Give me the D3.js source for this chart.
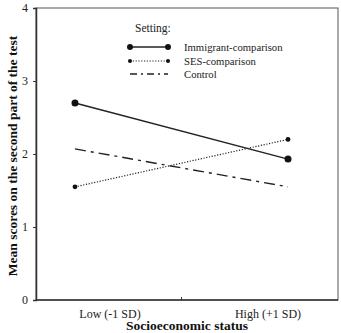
<!DOCTYPE html>
<html lang="en">
<head>
<meta charset="UTF-8">
<title>SES by setting</title>
<script src="https://d3js.org/d3.v7.min.js"></script>
<style>
  body { margin: 0; background: #fff; }
  svg { display: block; font-family: "Liberation Serif", "Times New Roman", serif; }
</style>
</head>
<body>
<svg width="341" height="333"></svg>
<script>
// chart values
const categories = ["Low (-1 SD)", "High (+1 SD)"];
const seriesNames = ["Immigrant-comparison", "SES-comparison", "Control"];
const immigrantValues = [2.70, 1.93];
const sesValues = [1.55, 2.20];
const controlValues = [2.07, 1.55];
const yTicks = [0, 1, 2, 3, 4];

const series = [
  { name: seriesNames[0], values: immigrantValues, dash: null, width: 1.5, r: 3.5 },
  { name: seriesNames[1], values: sesValues, dash: "1.2,1.6", width: 1.2, r: 2.4 },
  { name: seriesNames[2], values: controlValues, dash: "11,5,3,5", width: 1.4, r: 0 }
];

const svg = d3.select("svg");
const plotL = 36, plotR = 338, plotT = 8, plotB = 300;

const y = d3.scaleLinear().domain([0, 4]).range([plotB, plotT]);
// data points sit on a point scale, the labels on a wider band scale
const x = d3.scalePoint().domain(categories).range([36, 327]).padding(0.183);
const xLab = d3.scaleBand().domain(categories).range([31, 347]);

// frame
svg.append("rect")
  .attr("x", plotL).attr("y", plotT)
  .attr("width", plotR - plotL).attr("height", plotB - plotT)
  .attr("fill", "none").attr("stroke", "#555").attr("stroke-width", 1);

// y axis
const yAxis = svg.append("g")
  .attr("transform", `translate(${plotL},0)`)
  .call(d3.axisLeft(y).tickValues(yTicks).tickSize(3).tickPadding(5).tickFormat(d3.format("d")));
yAxis.select(".domain").attr("stroke", "#333").attr("stroke-width", 1.5);
yAxis.selectAll(".tick line").attr("stroke", "#333");
yAxis.selectAll("text").attr("font-size", 12).attr("font-family", "Liberation Serif").attr("fill", "#222");

// x axis
svg.append("line")
  .attr("x1", plotL).attr("x2", plotR).attr("y1", plotB).attr("y2", plotB)
  .attr("stroke", "#333").attr("stroke-width", 1.5);
const midX = (x(categories[0]) + x(categories[1])) / 2;
svg.append("line")
  .attr("x1", midX).attr("x2", midX).attr("y1", plotB).attr("y2", plotB - 3)
  .attr("stroke", "#333");
svg.append("g").selectAll("text")
  .data(categories)
  .join("text")
    .attr("x", d => xLab(d) + xLab.bandwidth() / 2)
    .attr("y", 318)
    .attr("text-anchor", "middle")
    .attr("font-size", 12)
    .attr("fill", "#222")
    .text(d => d);

// axis titles
svg.append("text")
  .attr("x", (plotL + plotR) / 2).attr("y", 330)
  .attr("text-anchor", "middle")
  .attr("font-size", 13.5).attr("font-weight", "bold").attr("fill", "#111")
  .text("Socioeconomic status");
svg.append("text")
  .attr("transform", "translate(17,156) rotate(-90)")
  .attr("text-anchor", "middle")
  .attr("font-size", 13.5).attr("font-weight", "bold").attr("fill", "#111")
  .text("Mean scores on the second part of the test");

// lines
const line = d3.line()
  .x((d, i) => x(categories[i]))
  .y(d => y(d));

series.forEach(s => {
  svg.append("path")
    .datum(s.values)
    .attr("d", line)
    .attr("fill", "none")
    .attr("stroke", "#222")
    .attr("stroke-width", s.width)
    .attr("stroke-dasharray", s.dash);
  if (s.r > 0) {
    svg.append("g").selectAll("circle")
      .data(s.values)
      .join("circle")
        .attr("cx", (d, i) => x(categories[i]))
        .attr("cy", d => y(d))
        .attr("r", s.r)
        .attr("fill", "#111");
  }
});

// legend
const lg = svg.append("g");
lg.append("text")
  .attr("x", 135).attr("y", 32)
  .attr("font-size", 11.5).attr("fill", "#222")
  .text("Setting:");
const rows = [47, 61, 74];
series.forEach((s, i) => {
  const yy = rows[i];
  lg.append("line")
    .attr("x1", 130).attr("x2", 168).attr("y1", yy).attr("y2", yy)
    .attr("stroke", "#222").attr("stroke-width", s.width)
    .attr("stroke-dasharray", i === 2 ? "7,4,2,4" : s.dash);
  if (s.r > 0) {
    [130, 168].forEach(cx => {
      lg.append("circle").attr("cx", cx).attr("cy", yy).attr("r", s.r * 0.85).attr("fill", "#111");
    });
  }
  lg.append("text")
    .attr("x", 184).attr("y", yy + 3.5)
    .attr("font-size", 10.7).attr("fill", "#222")
    .text(s.name);
});
</script>
</body>
</html>
